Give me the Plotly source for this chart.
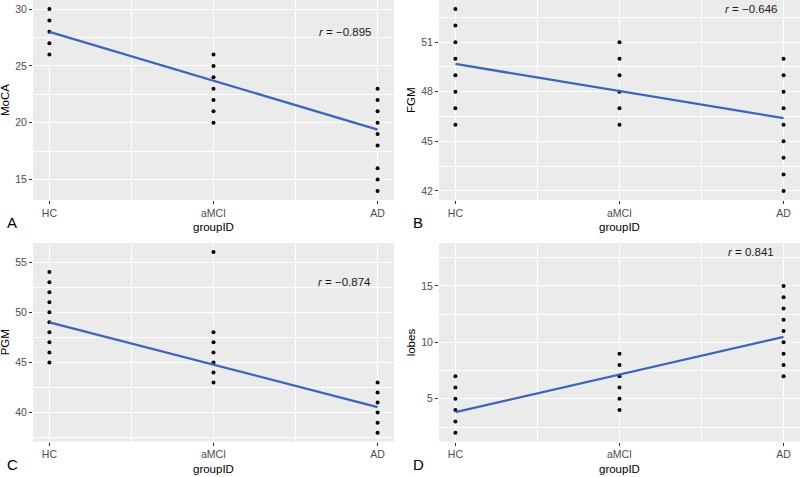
import plotly.graph_objects as go

groups = ["HC", "aMCI", "AD"]

# Panel A: MoCA
moca_hc = [30, 29, 28, 27, 26]
moca_amci = [26, 25, 24, 23, 22, 21, 20]
moca_ad = [23, 22, 21, 20, 19, 18, 16, 15, 14]
moca_fit = [28.0, 19.4]  # fitted value at HC and AD
moca_r = "−0.895"

# Panel B: FGM
fgm_hc = [53, 52, 51, 50, 49, 48, 47, 46]
fgm_amci = [51, 50, 49, 48, 47, 46]
fgm_ad = [50, 49, 48, 47, 46, 45, 44, 43, 42]
fgm_fit = [49.68, 46.4]
fgm_r = "−0.646"

# Panel C: PGM
pgm_hc = [54, 53, 52, 51, 50, 49, 48, 47, 46, 45]
pgm_amci = [56, 48, 47, 46, 45, 44, 43]
pgm_ad = [43, 42, 41, 40, 39, 38]
pgm_fit = [49.0, 40.55]
pgm_r = "−0.874"

# Panel D: lobes
lobes_hc = [7, 6, 5, 4, 3, 2]
lobes_amci = [9, 8, 7, 6, 5, 4]
lobes_ad = [15, 14, 13, 12, 11, 10, 9, 8, 7]
lobes_fit = [3.82, 10.48]
lobes_r = "0.841"

panels = [
    dict(name="MoCA", letter="A", hc=moca_hc, amci=moca_amci, ad=moca_ad, fit=moca_fit, r=moca_r,
         ticks=[15, 20, 25, 30], minor=2.5, yrange=[13.2, 30.8], ry=28),
    dict(name="FGM", letter="B", hc=fgm_hc, amci=fgm_amci, ad=fgm_ad, fit=fgm_fit, r=fgm_r,
         ticks=[42, 45, 48, 51], minor=1.5, yrange=[41.45, 53.55], ry=53),
    dict(name="PGM", letter="C", hc=pgm_hc, amci=pgm_amci, ad=pgm_ad, fit=pgm_fit, r=pgm_r,
         ticks=[40, 45, 50, 55], minor=2.5, yrange=[37.1, 56.9], ry=53),
    dict(name="lobes", letter="D", hc=lobes_hc, amci=lobes_amci, ad=lobes_ad, fit=lobes_fit, r=lobes_r,
         ticks=[5, 10, 15], minor=2.5, yrange=[1.2, 18.8], ry=18),
]

W, H = 800, 477
xdoms = [[33 / W, 394 / W], [439 / W, 1.0]]
ydoms = [[1 - 200 / H, 1.0], [1 - 441.7 / H, 1 - 243 / H]]

FONT = "Liberation Sans, Arial, sans-serif"
fig = go.Figure()
layout = dict(width=W, height=H, margin=dict(l=0, r=0, t=0, b=0),
              paper_bgcolor="white", showlegend=False, font=dict(family=FONT))
annotations = []

for i, p in enumerate(panels):
    row, col = divmod(i, 2)
    n = i + 1
    xa = "x" if n == 1 else f"x{n}"
    ya = "y" if n == 1 else f"y{n}"
    xs, ys = [], []
    for gi, vals in enumerate([p["hc"], p["amci"], p["ad"]]):
        xs += [gi + 1] * len(vals)
        ys += vals
    fig.add_trace(go.Scatter(x=xs, y=ys, mode="markers", xaxis=xa, yaxis=ya,
                             marker=dict(size=4, color="black"), cliponaxis=False))
    fig.add_trace(go.Scatter(x=[1, 3], y=p["fit"], mode="lines", xaxis=xa, yaxis=ya,
                             line=dict(color="#3d64bd", width=2.3)))
    axis_common = dict(showline=False, zeroline=False, ticks="outside", ticklen=3,
                       tickcolor="#333333", tickwidth=1, gridcolor="white", gridwidth=1.1,
                       tickfont=dict(size=10.5, color="#4d4d4d", family=FONT), automargin=False)
    layout[("xaxis" if n == 1 else f"xaxis{n}")] = dict(
        domain=xdoms[col], anchor=ya, range=[0.9, 3.1], tickmode="array",
        tickvals=[1, 2, 3], ticktext=groups,
        minor=dict(dtick=0.5, tick0=0.5, showgrid=True, gridcolor="white", gridwidth=0.5, ticks=""),
        **axis_common)
    layout[("yaxis" if n == 1 else f"yaxis{n}")] = dict(
        domain=ydoms[row], anchor=xa, range=p["yrange"], tickmode="array",
        tickvals=p["ticks"],
        minor=dict(dtick=p["minor"], tick0=0, showgrid=True, gridcolor="white", gridwidth=0.5, ticks=""),
        **axis_common)
    # r annotation
    annotations.append(dict(x=2.8, y=p["ry"], xref=xa, yref=ya, showarrow=False,
                            text=f"<i>r</i> = {p['r']}", font=dict(size=11.5, color="#1a1a1a")))
    # axis titles and panel letter
    x0, x1 = xdoms[col]
    y0, y1 = ydoms[row]
    annotations.append(dict(x=(x0 + x1) / 2, y=y0 - 27 / H, xref="paper", yref="paper",
                            showarrow=False, text="groupID", xanchor="center", yanchor="middle",
                            font=dict(size=11.5, color="black")))
    annotations.append(dict(x=x0 - 28 / W, y=(y0 + y1) / 2, xref="paper", yref="paper",
                            showarrow=False, text=p["name"], textangle=-90,
                            xanchor="center", yanchor="middle",
                            font=dict(size=11.5, color="black")))
    annotations.append(dict(x=x0 - 21 / W, y=y0 - 23 / H, xref="paper", yref="paper",
                            showarrow=False, text=p["letter"], xanchor="center", yanchor="middle",
                            font=dict(size=15, color="black")))

layout["annotations"] = annotations
layout["plot_bgcolor"] = "#EBEBEB"
fig.update_layout(**layout)
fig.write_html("out.html", config={"displayModeBar": False},
               post_script="document.body.style.margin='0';document.body.style.padding='0';")
